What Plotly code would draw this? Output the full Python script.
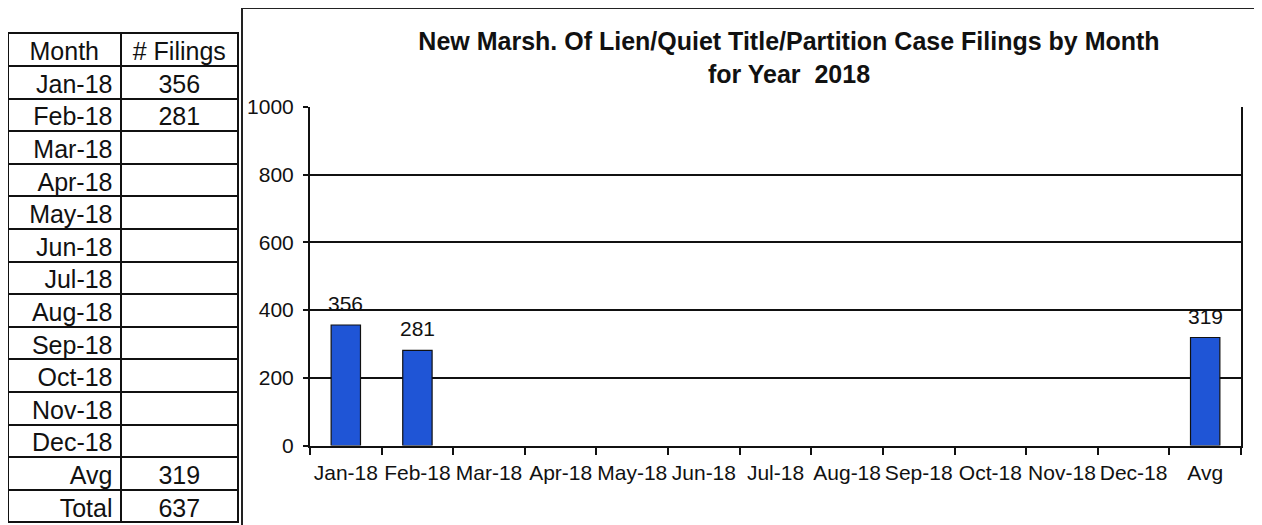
import plotly.graph_objects as go

# ---- data ----
months = ["Jan-18", "Feb-18", "Mar-18", "Apr-18", "May-18", "Jun-18",
          "Jul-18", "Aug-18", "Sep-18", "Oct-18", "Nov-18", "Dec-18"]
filings = [356, 281, None, None, None, None, None, None, None, None, None, None]
avg_value = 319
total_value = 637
y_ticks = [0, 200, 400, 600, 800, 1000]

categories = months + ["Avg"]
bar_values = filings + [avg_value]

table_col1 = months + ["Avg", "Total"]
table_col2 = [("" if v is None else str(v)) for v in filings] + [str(avg_value), str(total_value)]

W, H = 1262, 525
OX, OY = 8, 8  # page body offset of the plot div
FONT = "Liberation Sans, Arial, sans-serif"

def px_x(p):
    return (p - OX) / W

def px_y(p):
    return (H - (p - OY)) / H

fig = go.Figure()

fig.add_trace(go.Bar(
    x=categories,
    y=bar_values,
    width=0.41,
    marker=dict(color="#1f55d6", line=dict(color="#111111", width=1.2)),
    hoverinfo="x+y",
    showlegend=False,
))

for c, v in zip(categories, bar_values):
    if v is None:
        continue
    fig.add_annotation(
        x=c, y=v, xref="x", yref="y", text=str(v), showarrow=False,
        yanchor="bottom", yshift=8,
        font=dict(family=FONT, size=21, color="#111111"),
    )

fig.add_trace(go.Table(
    domain=dict(x=[px_x(8), px_x(239)], y=[0, px_y(33)]),
    columnwidth=[113, 118],
    header=dict(
        values=["Month", "# Filings"],
        align=["center", "center"],
        height=33,
        font=dict(family=FONT, size=25, color="#111111"),
        line=dict(color="#111111", width=2),
        fill=dict(color="white"),
    ),
    cells=dict(
        values=[table_col1, table_col2],
        align=["right", "center"],
        height=32.6,
        font=dict(family=FONT, size=25, color="#111111"),
        line=dict(color="#111111", width=2),
        fill=dict(color="white"),
    ),
))

fig.update_layout(
    width=W, height=H,
    margin=dict(l=0, r=0, t=0, b=0, pad=0, autoexpand=False),
    paper_bgcolor="white",
    plot_bgcolor="white",
    title=dict(
        text="New Marsh. Of Lien/Quiet Title/Partition Case Filings by Month<br>for Year\u00a0 2018",
        x=px_x(789), xanchor="center",
        y=px_y(50), yanchor="top",
        font=dict(family=FONT, size=25, color="#111111", weight="bold"),
    ),
    xaxis=dict(
        domain=[px_x(310), px_x(1241)],
        type="category",
        tickson="boundaries",
        tickangle=0,
        ticks="outside", ticklen=7, tickwidth=2, tickcolor="#111111",
        showline=True, linecolor="#111111", linewidth=2,
        showgrid=False,
        tickfont=dict(family=FONT, size=21, color="#111111"),
        ticklabelstandoff=7,
        automargin=False,
    ),
    yaxis=dict(
        domain=[px_y(445.5), px_y(107)],
        range=[0, 1000],
        tickvals=y_ticks,
        ticks="outside", ticklen=5, tickwidth=2, tickcolor="#111111",
        showline=True, mirror=True, linecolor="#111111", linewidth=2,
        showgrid=True, gridcolor="#111111", gridwidth=2,
        zeroline=False,
        tickfont=dict(family=FONT, size=21, color="#111111"),
        ticklabelstandoff=5,
        automargin=False,
    ),
    shapes=[dict(
        type="path", xref="paper", yref="paper",
        path=f"M {px_x(242)},{px_y(530)} L {px_x(242)},{px_y(8)} L {px_x(1270)},{px_y(8)}",
        line=dict(color="#222222", width=2),
    )],
)

fig.write_html("out.html")
